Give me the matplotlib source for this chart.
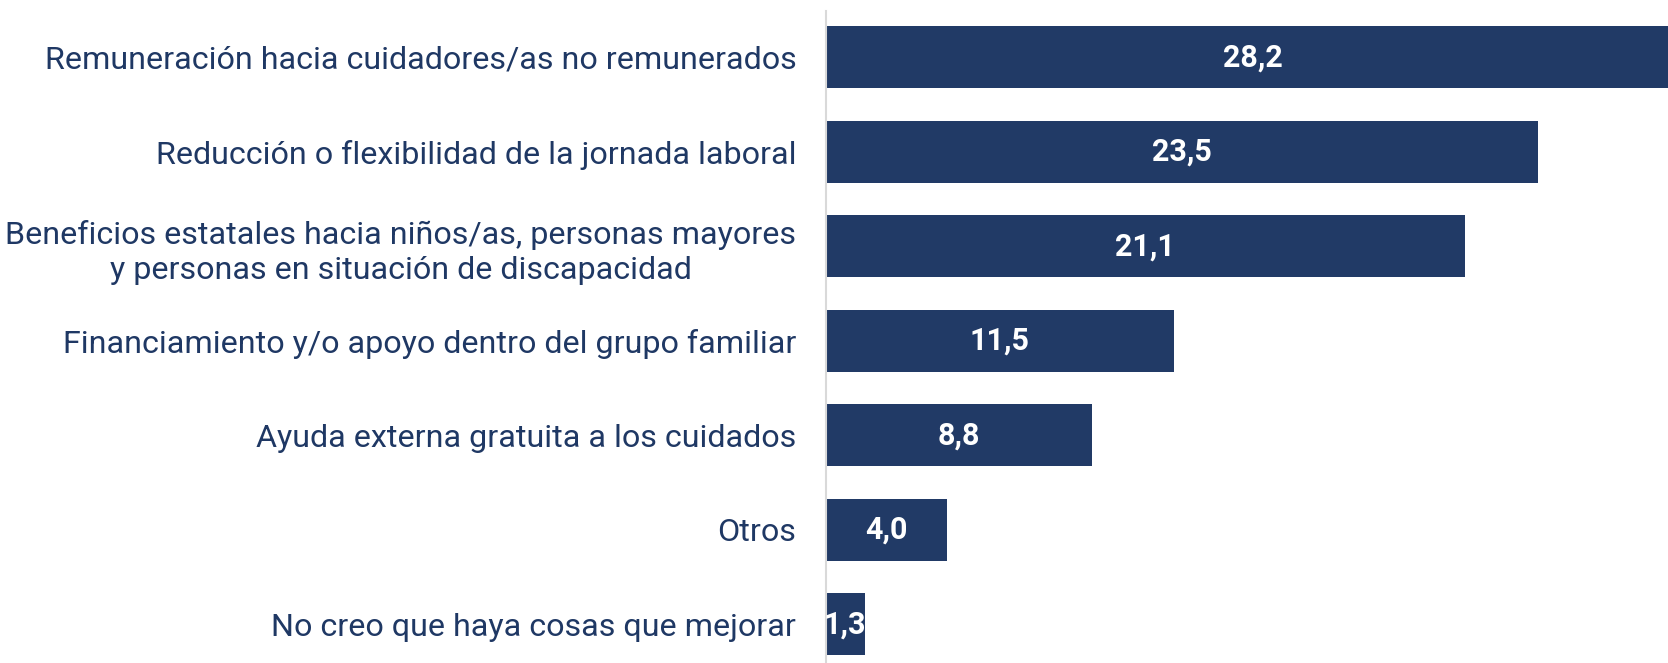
import matplotlib.pyplot as plt

plt.rcParams['font.family'] = ['Roboto', 'DejaVu Sans']

# data
categories = [
    "Remuneración hacia cuidadores/as no remunerados",
    "Reducción o flexibilidad de la jornada laboral",
    "Beneficios estatales hacia niños/as, personas mayores\ny personas en situación de discapacidad",
    "Financiamiento y/o apoyo dentro del grupo familiar",
    "Ayuda externa gratuita a los cuidados",
    "Otros",
    "No creo que haya cosas que mejorar",
]
values = [28.2, 23.5, 21.1, 11.5, 8.8, 4.0, 1.3]
value_labels = ["28,2", "23,5", "21,1", "11,5", "8,8", "4,0", "1,3"]

navy = "#213A66"
text_color = "#1F3864"

fig = plt.figure(figsize=(16.68, 6.63), dpi=100)
ax = fig.add_axes([825.5 / 1668, 0.0, 1 - 825.5 / 1668, 1 - 11 / 663])

ypos = list(range(len(categories)))
bars = ax.barh(ypos, values, height=0.66, color=navy)

for bar, lab in zip(bars, value_labels):
    ax.text(bar.get_width() / 2, bar.get_y() + bar.get_height() / 2, lab,
            ha='center', va='center', color='white', fontsize=22,
            fontweight='bold')

ax.set_yticks(ypos)
ax.set_yticklabels(categories, fontsize=23.2, color=text_color,
                   multialignment='center', linespacing=1.25)
ax.tick_params(axis='y', length=0, pad=21)
ax.set_ylim(6.41, -0.49)
ax.set_xlim(0, 27.8)
ax.set_xticks([])

for s in ['top', 'right', 'bottom']:
    ax.spines[s].set_visible(False)
ax.spines['left'].set_color('#D9D9D9')
ax.spines['left'].set_linewidth(1.5)

fig.savefig("out.png", dpi=100)
